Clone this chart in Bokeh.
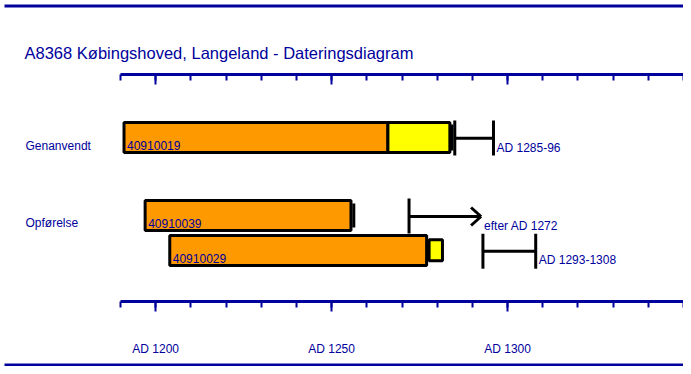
from bokeh.plotting import figure
from bokeh.models import LinearAxis, FixedTicker, Range1d
from bokeh.core.properties import value
from bokeh.embed import file_html
from bokeh.resources import INLINE

# ---------------- data ----------------
TITLE = "A8368 Købingshoved, Langeland - Dateringsdiagram"
GROUPS = ["Genanvendt", "Opførelse"]
SAMPLES = ["40910019", "40910039", "40910029"]
START = [1191, 1197, 1204]            # first ring (orange start)
HEART_END = [1266, 1255.5, 1277]      # orange end
SAP_START = [1266, None, 1277.7]      # yellow (sapwood)
SAP_END = [1283.6, None, 1281.5]
LAST_RING = [1284.2, 1256.3, None]    # black end marker
DATE_LO = [1285, 1272, 1293]
DATE_HI = [1296, None, 1308]
DATE_LABELS = ["AD 1285-96", "efter AD 1272", "AD 1293-1308"]
AXIS_START, AXIS_END = 1190, 1350
AXIS_MAJOR = [1200, 1250, 1300]
AXIS_MINOR = [1190, 1200, 1210, 1220, 1230, 1240, 1250, 1260, 1270, 1280,
              1290, 1300, 1310, 1320, 1330, 1340, 1350]
AXIS_LABELS = ["AD 1200", "AD 1250", "AD 1300"]

# ---------------- layout (screen px) ----------------
W, H = 683, 366
AX_LEFT_PX, AX_RIGHT_PX = 120, 683
S = (AX_RIGHT_PX - AX_LEFT_PX) / (AXIS_END - AXIS_START)   # px per year


def yr(px):
    return AXIS_START + (px - AX_LEFT_PX) / S


def wd(px):
    return px / S


NAVY = "#00009C"
ORANGE = "#FF9900"
YELLOW = "#FFFF00"
FONT = "Liberation Sans"
TS = 4.5   # text baseline correction

ROW_Y = [137, 215, 250]
BAR_H = 30
SAP_Y = [137, None, 249.7]
SAP_H = [30, None, 21]
LAST_H = [26, 24, None]
DATE_Y = [137.7, 216, 250.7]
DATE_TICK_H = 35
DATE_TICK_CY = [137.5, 215.5, 250.7]
DATE_LABEL_Y = [151.7, 230, 264.3]
GROUP_Y = [150, 227.3]
ARROW_LEN = 72
HEAD_BACK, HEAD_HALF = 10, 9

p = figure(width=W, height=H,
           x_range=Range1d(yr(0), yr(W)), y_range=Range1d(H, 0),
           output_backend="svg", toolbar_location=None,
           x_axis_location=None, y_axis_location=None,
           min_border=0, min_border_left=0, min_border_right=0,
           min_border_top=0, min_border_bottom=0)
p.outline_line_color = None
p.background_fill_color = "white"
p.border_fill_color = "white"
p.xgrid.grid_line_color = None
p.ygrid.grid_line_color = None
p.xgrid.visible = False
p.ygrid.visible = False

# rules
p.segment(x0=[yr(4), yr(4)], x1=[yr(686), yr(686)], y0=[5.5, 364.5], y1=[5.5, 364.5],
          line_color=NAVY, line_width=3)

# axes
for loc, show in [(74, False), (301, True)]:
    ax = LinearAxis(fixed_location=loc, bounds=(AXIS_START, AXIS_END),
                    ticker=FixedTicker(ticks=AXIS_MAJOR, minor_ticks=AXIS_MINOR))
    ax.axis_line_color = NAVY
    ax.axis_line_width = 3
    ax.major_tick_line_color = NAVY
    ax.major_tick_line_width = 2
    ax.minor_tick_line_color = NAVY
    ax.minor_tick_line_width = 2
    ax.major_tick_in = 0
    ax.major_tick_out = 10
    ax.minor_tick_in = 0
    ax.minor_tick_out = 6
    ax.major_label_text_font = FONT
    ax.major_label_text_font_size = "12px"
    ax.major_label_text_color = NAVY
    ax.major_label_standoff = 30
    if show:
        ax.major_label_overrides = {t: l for t, l in zip(AXIS_MAJOR, AXIS_LABELS)}
    else:
        ax.major_label_overrides = {t: "" for t in AXIS_MAJOR}
    p.add_layout(ax, "below")

# heartwood bars
p.quad(left=START, right=HEART_END,
       top=[y - BAR_H / 2 for y in ROW_Y], bottom=[y + BAR_H / 2 for y in ROW_Y],
       fill_color=ORANGE, line_color="black", line_width=3)

# sapwood
idx = [i for i in range(len(SAMPLES)) if SAP_START[i] is not None]
p.quad(left=[SAP_START[i] for i in idx], right=[SAP_END[i] for i in idx],
       top=[SAP_Y[i] - SAP_H[i] / 2 for i in idx], bottom=[SAP_Y[i] + SAP_H[i] / 2 for i in idx],
       fill_color=YELLOW, line_color="black", line_width=3)

# last ring markers
idx = [i for i in range(len(SAMPLES)) if LAST_RING[i] is not None]
p.quad(left=[LAST_RING[i] - wd(1.5) for i in idx], right=[LAST_RING[i] + wd(1.5) for i in idx],
       top=[ROW_Y[i] - LAST_H[i] / 2 for i in idx], bottom=[ROW_Y[i] + LAST_H[i] / 2 for i in idx],
       fill_color="black", line_color=None)

# sample ids
p.text(x=START, y=[y + BAR_H / 2 - 2.5 - TS for y in ROW_Y], text=SAMPLES,
       x_offset=3, text_font=value(FONT), text_font_size="12px",
       text_color=NAVY, text_baseline="alphabetic")

# dating intervals
vx, vy0, vy1 = [], [], []
hx0, hx1, hy0, hy1 = [], [], [], []
label_x = []
for i in range(len(SAMPLES)):
    ends = [DATE_LO[i]] + ([DATE_HI[i]] if DATE_HI[i] is not None else [])
    for e in ends:
        vx.append(e)
        vy0.append(DATE_TICK_CY[i] - DATE_TICK_H / 2)
        vy1.append(DATE_TICK_CY[i] + DATE_TICK_H / 2)
    if DATE_HI[i] is not None:
        hx0.append(DATE_LO[i]); hx1.append(DATE_HI[i]); hy0.append(DATE_Y[i]); hy1.append(DATE_Y[i])
        label_x.append(DATE_HI[i])
    else:
        tip = DATE_LO[i] + wd(ARROW_LEN)
        # shaft
        hx0.append(DATE_LO[i]); hx1.append(tip); hy0.append(DATE_Y[i]); hy1.append(DATE_Y[i])
        # open chevron head
        for sgn in (-1, 1):
            hx0.append(tip - wd(HEAD_BACK)); hx1.append(tip)
            hy0.append(DATE_Y[i] + sgn * HEAD_HALF); hy1.append(DATE_Y[i])
        label_x.append(tip)
p.segment(x0=vx, x1=vx, y0=vy0, y1=vy1, line_color="black", line_width=3)
p.segment(x0=hx0, x1=hx1, y0=hy0, y1=hy1, line_color="black", line_width=3)

p.text(x=label_x, y=[y - TS for y in DATE_LABEL_Y], text=DATE_LABELS, x_offset=3,
       text_font=value(FONT), text_font_size="12px", text_color=NAVY, text_baseline="alphabetic")

# group labels and title
p.text(x=[yr(25)] * len(GROUPS), y=[y - TS for y in GROUP_Y], text=GROUPS,
       text_font=value(FONT), text_font_size="12px", text_color=NAVY, text_baseline="alphabetic")
p.text(x=[yr(24)], y=[56.5 - TS], text=[TITLE],
       text_font=value(FONT), text_font_size="16.5px", text_color=NAVY, text_baseline="alphabetic")

open("out.html", "w").write(file_html(p, INLINE))
